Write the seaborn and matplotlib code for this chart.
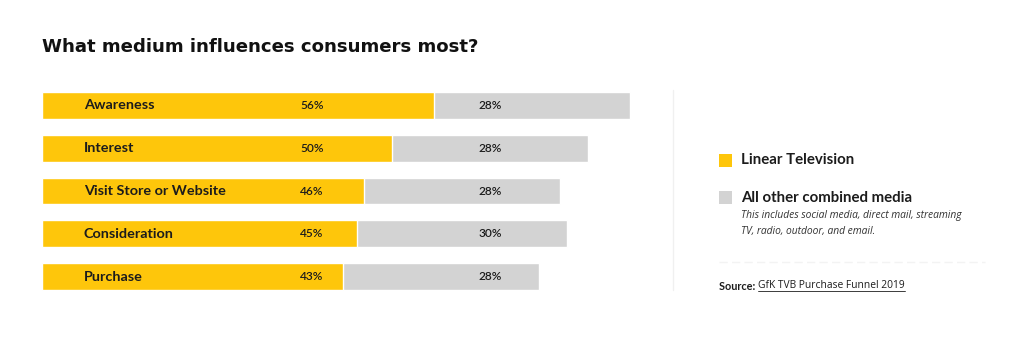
import matplotlib
matplotlib.use("Agg")
import matplotlib.pyplot as plt
import seaborn as sns
import pandas as pd

# dados do grafico
stages = ["Awareness", "Interest", "Visit Store or Website", "Consideration", "Purchase"]
linear_tv = [56, 50, 46, 45, 43]
other_media = [28, 28, 28, 30, 28]

title = "What medium influences consumers most?"
legend_tv = "Linear Television"
legend_other = "All other combined media"
note = "This includes social media, direct mail, streaming\nTV, radio, outdoor, and email."
source_lbl = "Source:"
source_txt = "GfK TVB Purchase Funnel 2019"

YELLOW = "#FEC60B"
GRAY = "#D3D3D3"
INK = "#1c1c1c"
BOLD = ["Lato", "DejaVu Sans"]

sns.set_theme(style="white")
plt.rcParams["font.family"] = ["Open Sans", "DejaVu Sans"]

df = pd.DataFrame({"stage": stages, "tv": linear_tv, "other": other_media})
df["total"] = df["tv"] + df["other"]

W, H = 1024, 351
fig = plt.figure(figsize=(W / 100, H / 100), dpi=100)

def fx(px):
    return px / W

def fy(py):
    return 1 - py / H

# eixo principal (1 unidade = 7 px)
ax_w = 620
ax = fig.add_axes([fx(42), fy(298), fx(ax_w), (298 - 84) / H])
sns.barplot(data=df, x="total", y="stage", color=GRAY, width=0.63, saturation=1, ax=ax, orient="h")
sns.barplot(data=df, x="tv", y="stage", color=YELLOW, width=0.63, saturation=1, ax=ax, orient="h")
ax.set_xlim(0, ax_w / 7)
ax.set_ylim(len(stages) - 0.5, -0.5)
ax.axis("off")

tv_col = (312 - 42) / 7
other_col = (490 - 42) / 7
for i, row in df.iterrows():
    ax.text(6, i, row["stage"], ha="left", va="center", fontsize=10.4, fontweight="bold", color=INK, family=BOLD)
    ax.text(tv_col, i, f"{row['tv']}%", ha="center", va="center", fontsize=8.6, fontweight="semibold", color=INK, family=BOLD)
    ax.text(other_col, i, f"{row['other']}%", ha="center", va="center", fontsize=8.6, fontweight="semibold", color=INK, family=BOLD)

# titulo
fig.text(fx(42), fy(47), title, ha="left", va="center", fontsize=13.1, fontweight="bold", color="#111111",
         family=["DejaVu Sans"])

# divisoria
fig.add_artist(plt.Line2D([fx(673), fx(673)], [fy(90), fy(290)], color="#f0f0f0", lw=1))

# legenda
fig.add_artist(plt.Rectangle((fx(719), fy(167)), fx(13), 13 / H, color=YELLOW, lw=0))
fig.text(fx(741), fy(160), legend_tv, ha="left", va="center", fontsize=10.8, fontweight="bold", color=INK, family=BOLD)
fig.add_artist(plt.Rectangle((fx(719), fy(204)), fx(13), 13 / H, color=GRAY, lw=0))
fig.text(fx(741), fy(198), legend_other, ha="left", va="center", fontsize=10.8, fontweight="bold", color=INK, family=BOLD)
fig.text(fx(741), fy(210), note, ha="left", va="top", fontsize=7.4, style="italic", color="#333333",
         linespacing=1.65)

fig.add_artist(plt.Line2D([fx(719), fx(985)], [fy(262), fy(262)], color="#f3f3f3", lw=1, ls=(0, (6, 3))))

# fonte
s1 = fig.text(fx(719), fy(286), source_lbl + " ", ha="left", va="center", fontsize=7.8, fontweight="bold", color=INK, family=BOLD)
fig.canvas.draw()
bb = s1.get_window_extent()
s2 = fig.text(bb.x1 / W, fy(286), source_txt, ha="left", va="center", fontsize=7.4, color=INK)
fig.canvas.draw()
bb2 = s2.get_window_extent()
fig.add_artist(plt.Line2D([bb2.x0 / W, bb2.x1 / W], [(bb2.y0 + 1) / H, (bb2.y0 + 1) / H], color=INK, lw=0.6))

fig.savefig("out.png", dpi=100, facecolor="white")
